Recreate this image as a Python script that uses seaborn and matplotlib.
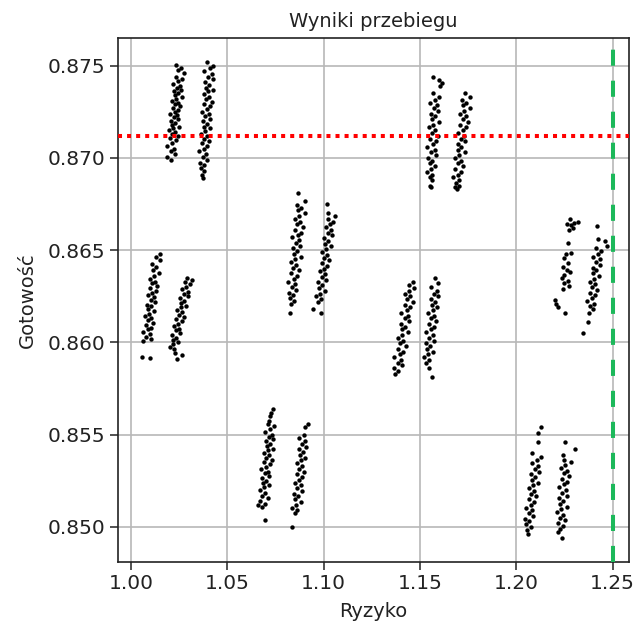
import matplotlib
matplotlib.use("Agg")
import matplotlib.pyplot as plt
import seaborn as sns
import pandas as pd

# ---- data: (Ryzyko, Gotowość) per point cloud ----
a1 = [(1.0149,0.86480),(1.0131,0.86465),(1.0153,0.86445),(1.0112,0.86425),(1.0132,0.86410),
      (1.0116,0.86390),(1.0146,0.86375),(1.0120,0.86360),(1.0099,0.86345),(1.0127,0.86330),
      (1.0112,0.86320),(1.0138,0.86305),(1.0101,0.86295),(1.0129,0.86280),(1.0112,0.86270),
      (1.0088,0.86255),(1.0121,0.86245),(1.0103,0.86230),(1.0126,0.86220),(1.0086,0.86205),
      (1.0107,0.86195),(1.0091,0.86180),(1.0122,0.86170),(1.0096,0.86155),(1.0075,0.86145),
      (1.0103,0.86130),(1.0088,0.86120),(1.0114,0.86105),(1.0077,0.86095),(1.0105,0.86080),
      (1.0088,0.86070),(1.0064,0.86055),(1.0097,0.86045),(1.0079,0.86030),(1.0102,0.86020),
      (1.0062,0.86010),(1.0057,0.85920),(1.0097,0.85915)]
a2 = [(1.0292,0.86350),(1.0316,0.86340),(1.0279,0.86325),(1.0307,0.86315),(1.0287,0.86300),
      (1.0265,0.86290),(1.0294,0.86275),(1.0276,0.86265),(1.0297,0.86250),(1.0257,0.86240),
      (1.0275,0.86225),(1.0259,0.86215),(1.0286,0.86200),(1.0262,0.86190),(1.0241,0.86175),
      (1.0267,0.86165),(1.0250,0.86150),(1.0274,0.86140),(1.0236,0.86125),(1.0264,0.86115),
      (1.0245,0.86100),(1.0223,0.86090),(1.0252,0.86075),(1.0234,0.86065),(1.0255,0.86050),
      (1.0214,0.86040),(1.0233,0.86025),(1.0217,0.86015),(1.0244,0.86000),(1.0220,0.85990),
      (1.0205,0.85975),(1.0225,0.85965),(1.0239,0.85910),(1.0265,0.85930),(1.0230,0.85940)]
b1 = [(1.0233,0.87505),(1.0261,0.87490),(1.0246,0.87475),(1.0274,0.87460),(1.0234,0.87440),
      (1.0263,0.87425),(1.0246,0.87415),(1.0219,0.87400),(1.0256,0.87390),(1.0239,0.87380),
      (1.0262,0.87370),(1.0223,0.87360),(1.0244,0.87350),(1.0229,0.87340),(1.0264,0.87330),
      (1.0235,0.87320),(1.0214,0.87310),(1.0243,0.87300),(1.0228,0.87290),(1.0257,0.87280),
      (1.0218,0.87270),(1.0247,0.87260),(1.0231,0.87250),(1.0204,0.87240),(1.0241,0.87230),
      (1.0224,0.87220),(1.0247,0.87210),(1.0208,0.87200),(1.0229,0.87190),(1.0214,0.87180),
      (1.0249,0.87170),(1.0220,0.87160),(1.0199,0.87150),(1.0228,0.87140),(1.0213,0.87130),
      (1.0242,0.87120),(1.0203,0.87110),(1.0232,0.87095),(1.0214,0.87080),(1.0187,0.87065),
      (1.0223,0.87050),(1.0206,0.87035),(1.0229,0.87020),(1.0189,0.87005),(1.0210,0.86990)]
b2 = [(1.0397,0.87520),(1.0426,0.87500),(1.0409,0.87485),(1.0382,0.87470),(1.0419,0.87455),
      (1.0402,0.87440),(1.0425,0.87425),(1.0386,0.87410),(1.0407,0.87395),(1.0392,0.87380),
      (1.0427,0.87370),(1.0398,0.87360),(1.0377,0.87345),(1.0406,0.87330),(1.0391,0.87320),
      (1.0420,0.87305),(1.0381,0.87290),(1.0411,0.87280),(1.0394,0.87265),(1.0367,0.87250),
      (1.0404,0.87240),(1.0387,0.87225),(1.0410,0.87210),(1.0372,0.87200),(1.0393,0.87185),
      (1.0378,0.87170),(1.0413,0.87160),(1.0384,0.87145),(1.0363,0.87130),(1.0393,0.87120),
      (1.0378,0.87105),(1.0407,0.87090),(1.0368,0.87080),(1.0397,0.87065),(1.0380,0.87050),
      (1.0353,0.87035),(1.0390,0.87020),(1.0373,0.87005),(1.0396,0.86990),(1.0357,0.86975),
      (1.0378,0.86960),(1.0363,0.86945),(1.0382,0.86930),(1.0369,0.86910),(1.0376,0.86890)]
c1 = [(1.0736,0.85640),(1.0728,0.85620),(1.0722,0.85600),(1.0715,0.85575),(1.0713,0.85560),
      (1.0741,0.85545),(1.0724,0.85530),(1.0696,0.85515),(1.0733,0.85500),(1.0716,0.85490),
      (1.0738,0.85475),(1.0699,0.85465),(1.0720,0.85450),(1.0705,0.85440),(1.0739,0.85425),
      (1.0710,0.85415),(1.0689,0.85400),(1.0718,0.85390),(1.0702,0.85375),(1.0731,0.85365),
      (1.0692,0.85350),(1.0721,0.85340),(1.0703,0.85325),(1.0676,0.85315),(1.0713,0.85300),
      (1.0696,0.85290),(1.0718,0.85275),(1.0679,0.85265),(1.0699,0.85250),(1.0684,0.85240),
      (1.0719,0.85225),(1.0690,0.85215),(1.0668,0.85200),(1.0697,0.85185),(1.0681,0.85170),
      (1.0709,0.85155),(1.0670,0.85140),(1.0698,0.85125),(1.0681,0.85110),(1.0659,0.85120),
      (1.0695,0.85040)]
c2 = [(1.0918,0.85560),(1.0905,0.85540),(1.0897,0.85500),(1.0875,0.85480),(1.0906,0.85465),
      (1.0888,0.85450),(1.0911,0.85435),(1.0871,0.85420),(1.0892,0.85405),(1.0876,0.85390),
      (1.0905,0.85375),(1.0881,0.85360),(1.0862,0.85345),(1.0888,0.85330),(1.0873,0.85315),
      (1.0897,0.85300),(1.0862,0.85285),(1.0890,0.85270),(1.0873,0.85255),(1.0851,0.85240),
      (1.0882,0.85225),(1.0864,0.85210),(1.0887,0.85195),(1.0847,0.85180),(1.0868,0.85165),
      (1.0852,0.85150),(1.0881,0.85135),(1.0857,0.85120),(1.0838,0.85105),(1.0864,0.85090),
      (1.0850,0.85075),(1.0835,0.85000)]
d1 = [(1.0866,0.86810),(1.0902,0.86765),(1.0862,0.86745),(1.0883,0.86730),(1.0867,0.86715),
      (1.0902,0.86700),(1.0873,0.86685),(1.0851,0.86670),(1.0880,0.86655),(1.0864,0.86640),
      (1.0893,0.86625),(1.0854,0.86610),(1.0882,0.86595),(1.0865,0.86580),(1.0838,0.86570),
      (1.0875,0.86555),(1.0857,0.86540),(1.0880,0.86525),(1.0841,0.86510),(1.0861,0.86495),
      (1.0846,0.86480),(1.0881,0.86465),(1.0851,0.86450),(1.0830,0.86435),(1.0859,0.86420),
      (1.0843,0.86405),(1.0872,0.86390),(1.0832,0.86375),(1.0861,0.86360),(1.0844,0.86345),
      (1.0816,0.86330),(1.0853,0.86315),(1.0836,0.86300),(1.0858,0.86285),(1.0819,0.86270),
      (1.0840,0.86255),(1.0824,0.86240),(1.0849,0.86225),(1.0830,0.86210),(1.0825,0.86160)]
d2 = [(1.1017,0.86750),(1.1024,0.86700),(1.1058,0.86685),(1.1022,0.86670),(1.1050,0.86655),
      (1.1032,0.86640),(1.1010,0.86625),(1.1040,0.86610),(1.1022,0.86595),(1.1044,0.86580),
      (1.1004,0.86565),(1.1025,0.86550),(1.1009,0.86535),(1.1037,0.86520),(1.1013,0.86505),
      (1.0993,0.86490),(1.1019,0.86475),(1.1003,0.86460),(1.1027,0.86445),(1.0991,0.86430),
      (1.1019,0.86415),(1.1001,0.86400),(1.0979,0.86385),(1.1009,0.86370),(1.0991,0.86355),
      (1.1013,0.86340),(1.0973,0.86325),(1.0993,0.86310),(1.0977,0.86295),(1.1005,0.86280),
      (1.0981,0.86265),(1.0961,0.86250),(1.0988,0.86235),(1.0972,0.86220),(1.0946,0.86180),
      (1.0989,0.86160)]
e1 = [(1.1463,0.86325),(1.1442,0.86310),(1.1469,0.86295),(1.1445,0.86280),(1.1423,0.86265),
      (1.1450,0.86250),(1.1434,0.86235),(1.1462,0.86220),(1.1422,0.86205),(1.1449,0.86190),
      (1.1431,0.86175),(1.1403,0.86160),(1.1439,0.86145),(1.1420,0.86130),(1.1442,0.86115),
      (1.1402,0.86100),(1.1422,0.86085),(1.1405,0.86070),(1.1437,0.86055),(1.1409,0.86040),
      (1.1387,0.86025),(1.1414,0.86010),(1.1398,0.85995),(1.1426,0.85980),(1.1386,0.85965),
      (1.1413,0.85950),(1.1395,0.85935),(1.1367,0.85920),(1.1403,0.85905),(1.1384,0.85890),
      (1.1406,0.85875),(1.1366,0.85860),(1.1386,0.85845),(1.1373,0.85830)]
e2 = [(1.1577,0.86350),(1.1592,0.86320),(1.1558,0.86300),(1.1590,0.86280),(1.1573,0.86265),
      (1.1595,0.86250),(1.1556,0.86235),(1.1576,0.86220),(1.1561,0.86205),(1.1591,0.86190),
      (1.1566,0.86175),(1.1544,0.86160),(1.1573,0.86145),(1.1557,0.86130),(1.1584,0.86115),
      (1.1546,0.86100),(1.1575,0.86085),(1.1557,0.86070),(1.1534,0.86055),(1.1566,0.86040),
      (1.1549,0.86025),(1.1571,0.86010),(1.1532,0.85995),(1.1552,0.85980),(1.1537,0.85965),
      (1.1567,0.85950),(1.1542,0.85935),(1.1520,0.85920),(1.1549,0.85905),(1.1533,0.85890),
      (1.1545,0.85860),(1.1561,0.85810)]
f1 = [(1.1566,0.87440),(1.1600,0.87420),(1.1613,0.87405),(1.1605,0.87390),(1.1568,0.87350),
      (1.1597,0.87330),(1.1580,0.87315),(1.1553,0.87300),(1.1590,0.87285),(1.1573,0.87270),
      (1.1596,0.87255),(1.1558,0.87240),(1.1579,0.87225),(1.1564,0.87210),(1.1599,0.87195),
      (1.1570,0.87180),(1.1549,0.87165),(1.1578,0.87150),(1.1563,0.87135),(1.1593,0.87120),
      (1.1554,0.87105),(1.1583,0.87090),(1.1566,0.87075),(1.1539,0.87060),(1.1576,0.87045),
      (1.1559,0.87030),(1.1583,0.87015),(1.1544,0.87000),(1.1565,0.86985),(1.1550,0.86970),
      (1.1579,0.86955),(1.1556,0.86940),(1.1537,0.86925),(1.1564,0.86910),(1.1550,0.86895),
      (1.1565,0.86880),(1.1551,0.86850),(1.1558,0.86840)]
f2 = [(1.1732,0.87350),(1.1758,0.87330),(1.1720,0.87315),(1.1741,0.87300),(1.1725,0.87285),
      (1.1758,0.87270),(1.1730,0.87255),(1.1709,0.87240),(1.1737,0.87225),(1.1721,0.87210),
      (1.1750,0.87195),(1.1710,0.87180),(1.1738,0.87165),(1.1721,0.87150),(1.1695,0.87135),
      (1.1730,0.87120),(1.1712,0.87105),(1.1734,0.87090),(1.1695,0.87075),(1.1715,0.87060),
      (1.1700,0.87045),(1.1732,0.87030),(1.1704,0.87015),(1.1683,0.87000),(1.1711,0.86985),
      (1.1696,0.86970),(1.1722,0.86955),(1.1684,0.86940),(1.1713,0.86925),(1.1695,0.86910),
      (1.1672,0.86895),(1.1704,0.86880),(1.1686,0.86865),(1.1703,0.86850),(1.1680,0.86840),
      (1.1693,0.86830)]
g1 = [(1.2127,0.85540),(1.2111,0.85510),(1.2111,0.85460),(1.2080,0.85400),(1.2126,0.85380),
      (1.2107,0.85360),(1.2083,0.85345),(1.2115,0.85330),(1.2097,0.85315),(1.2119,0.85300),
      (1.2079,0.85285),(1.2099,0.85270),(1.2083,0.85255),(1.2113,0.85240),(1.2087,0.85225),
      (1.2065,0.85210),(1.2093,0.85195),(1.2077,0.85180),(1.2103,0.85165),(1.2065,0.85150),
      (1.2093,0.85135),(1.2075,0.85120),(1.2051,0.85105),(1.2083,0.85090),(1.2065,0.85075),
      (1.2087,0.85060),(1.2047,0.85045),(1.2067,0.85030),(1.2051,0.85015),(1.2076,0.85000),
      (1.2054,0.84985),(1.2059,0.84960)]
g2 = [(1.2251,0.85460),(1.2303,0.85420),(1.2241,0.85390),(1.2247,0.85365),(1.2282,0.85350),
      (1.2253,0.85335),(1.2232,0.85320),(1.2261,0.85305),(1.2246,0.85290),(1.2274,0.85275),
      (1.2235,0.85260),(1.2264,0.85245),(1.2247,0.85230),(1.2220,0.85215),(1.2257,0.85200),
      (1.2239,0.85185),(1.2262,0.85170),(1.2223,0.85155),(1.2244,0.85140),(1.2229,0.85125),
      (1.2264,0.85110),(1.2234,0.85095),(1.2213,0.85080),(1.2242,0.85065),(1.2227,0.85050),
      (1.2254,0.85035),(1.2217,0.85020),(1.2245,0.85005),(1.2228,0.84990),(1.2215,0.84975),
      (1.2235,0.84940)]
h1 = [(1.2277,0.86670),(1.2265,0.86640),(1.2285,0.86635),(1.2300,0.86645),(1.2318,0.86655),
      (1.2272,0.86610),(1.2294,0.86620),(1.2266,0.86540),(1.2258,0.86480),(1.2285,0.86485),
      (1.2248,0.86455),(1.2270,0.86430),(1.2240,0.86410),(1.2262,0.86395),(1.2280,0.86380),
      (1.2248,0.86365),(1.2236,0.86350),(1.2266,0.86335),(1.2250,0.86320),(1.2272,0.86305),
      (1.2242,0.86290),(1.2199,0.86230),(1.2208,0.86210),(1.2215,0.86190),(1.2251,0.86160)]
h2 = [(1.2417,0.86630),(1.2422,0.86560),(1.2458,0.86550),(1.2472,0.86525),(1.2413,0.86510),
      (1.2442,0.86495),(1.2424,0.86480),(1.2400,0.86465),(1.2432,0.86450),(1.2414,0.86435),
      (1.2436,0.86420),(1.2396,0.86405),(1.2416,0.86390),(1.2400,0.86375),(1.2428,0.86360),
      (1.2404,0.86345),(1.2382,0.86330),(1.2411,0.86315),(1.2395,0.86300),(1.2419,0.86285),
      (1.2383,0.86270),(1.2411,0.86255),(1.2393,0.86240),(1.2369,0.86225),(1.2401,0.86210),
      (1.2383,0.86195),(1.2399,0.86180),(1.2375,0.86160),(1.2370,0.86110),(1.2344,0.86050)]

threshold_y = 0.8712   # red dotted line
limit_x = 1.25         # green dashed line

title = "Wyniki przebiegu"
xlabel = "Ryzyko"
ylabel = "Gotowość"
xticks = [1.00, 1.05, 1.10, 1.15, 1.20, 1.25]
yticks = [0.850, 0.855, 0.860, 0.865, 0.870, 0.875]

groups = [a1, a2, b1, b2, c1, c2, d1, d2, e1, e2, f1, f2, g1, g2, h1, h2]
rows = [p for g in groups for p in g]
df = pd.DataFrame(rows, columns=["Ryzyko", "Gotowość"])

fig = plt.figure(figsize=(6.38, 6.31), dpi=100)
ax = fig.add_axes([0.1846, 0.1094, 0.8013, 0.8304])
ax.set_axisbelow(True)
ax.grid(True, color="#b8b8b8", linewidth=1.2)

sns.scatterplot(data=df, x="Ryzyko", y="Gotowość", ax=ax, color="black",
                s=10, linewidth=0, marker="o", zorder=3)

ax.axhline(threshold_y, color="red", linewidth=2.9, linestyle=(0, (1, 1.25)), zorder=4)
ax.axvline(limit_x, color="#1cb85a", linewidth=2.9, linestyle=(0, (4, 3.7)), zorder=4)

ax.set_xlim(0.9932, 1.2585)
ax.set_ylim(0.8481, 0.8765)
ax.set_xticks(xticks)
ax.set_xticklabels([f"{v:.2f}" for v in xticks])
ax.set_yticks(yticks)
ax.set_yticklabels([f"{v:.3f}" for v in yticks])
ax.tick_params(labelsize=14.5, length=5.5, width=1.2, color="#333333", labelcolor="#222222")
for s in ax.spines.values():
    s.set_linewidth(1.2)
    s.set_color("#222222")

ax.set_xlabel(xlabel, fontsize=14, color="#222222", labelpad=6)
ax.set_ylabel(ylabel, fontsize=14, color="#222222", labelpad=8)
ax.set_title(title, fontsize=14, color="#222222", pad=8)

fig.savefig("out.png", dpi=100)
